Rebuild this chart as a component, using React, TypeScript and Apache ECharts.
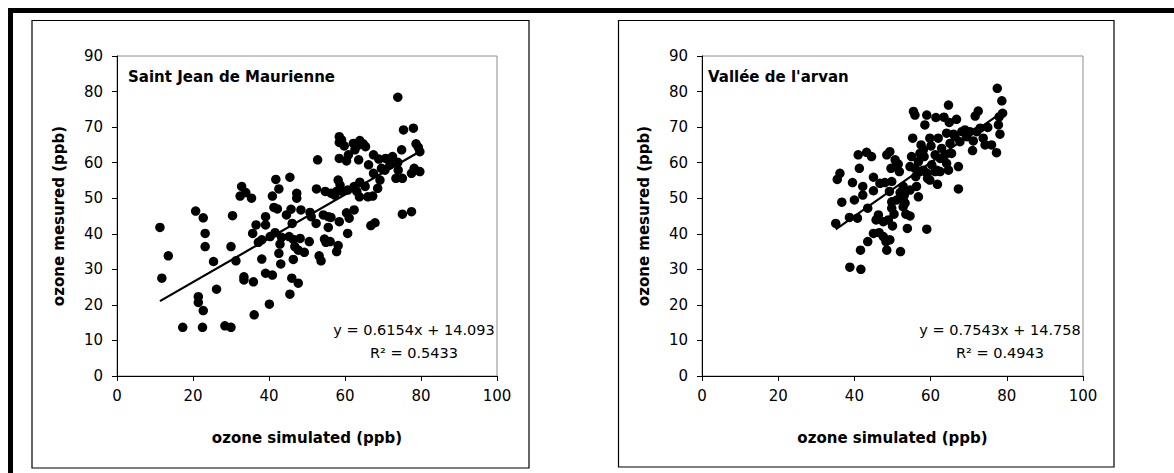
import React, { useEffect, useRef } from "react";
import * as echarts from "echarts";

// ---- Data ----
const xAxisTicks = [0, 20, 40, 60, 80, 100];
const yAxisTicks = [0, 10, 20, 30, 40, 50, 60, 70, 80, 90];

const sjmTitle = "Saint Jean de Maurienne";
const sjmSimulated = [
  11.3, 13.5, 11.8, 17.3, 20.7, 22.7, 23.2, 23.2, 25.4, 21.4, 21.4, 22.7, 22.5, 26.2, 28.4, 30.0, 30.4, 30.0, 31.3, 32.8,
  32.4, 33.9, 35.4, 33.4, 33.4, 35.9, 36.1, 35.7, 36.6, 37.2, 38.1, 39.1, 39.1, 38.1, 39.1, 40.9, 40.1, 40.3, 41.6, 40.9,
  41.8, 42.6, 41.3, 42.2, 43.3, 42.9, 42.6, 43.1, 44.6, 45.5, 45.8, 46.1, 45.3, 46.4, 46.8, 47.7, 48.2, 47.3, 47.3, 48.4,
  49.3, 50.6, 46.4, 46.0, 47.7, 45.5, 50.8, 51.1, 52.4, 52.5, 52.8, 53.2, 53.7, 54.3, 54.6, 55.0, 55.6, 56.1, 55.6, 56.3,
  54.8, 56.3, 57.8, 58.2, 58.5, 58.2, 58.7, 57.8, 58.5, 59.1, 58.5, 59.8, 58.5, 60.4, 60.7, 60.4, 61.1, 60.7, 62.2, 62.6,
  63.2, 63.9, 64.8, 65.4, 63.6, 66.2, 62.4, 63.1, 62.4, 63.9, 65.3, 63.8, 66.0, 67.3, 66.8, 67.9, 67.5, 68.9, 69.6, 69.2,
  68.6, 70.7, 71.7, 72.5, 73.9, 75.4, 74.9, 73.9, 74.0, 73.4, 75.1, 75.1, 77.5, 78.0, 78.7, 79.3, 79.7, 78.2, 77.5, 79.7,
  71.8, 70.5, 67.5, 59.3, 57.3, 60.9,
];
const sjmMeasured = [
  41.8, 33.8, 27.5, 13.7, 46.4, 44.5, 40.1, 36.4, 32.2, 22.3, 20.7, 18.4, 13.7, 24.4, 14.1, 13.7, 45.1, 36.4, 32.4, 53.3,
  50.6, 51.6, 50.0, 27.9, 27.0, 26.5, 17.2, 40.1, 42.5, 37.6, 38.3, 44.8, 42.5, 32.9, 28.9, 28.4, 20.2, 39.2, 40.3, 50.6,
  55.3, 52.6, 47.4, 47.0, 39.0, 37.1, 34.5, 31.5, 45.3, 55.9, 46.9, 42.9, 39.2, 38.4, 36.4, 35.4, 38.7, 51.4, 50.0, 46.7,
  34.8, 37.8, 32.8, 27.5, 26.1, 23.0, 46.0, 44.8, 42.9, 52.6, 60.8, 33.8, 32.4, 45.3, 38.5, 37.6, 44.8, 37.8, 41.8, 44.6,
  51.9, 51.4, 35.0, 36.7, 43.4, 55.1, 53.7, 51.9, 67.3, 66.4, 65.7, 64.7, 61.2, 60.5, 52.3, 45.9, 44.4, 40.1, 65.4, 63.6,
  64.7, 66.2, 65.3, 64.5, 60.8, 59.4, 53.3, 51.9, 46.7, 54.5, 53.3, 50.4, 50.4, 50.6, 42.3, 43.1, 62.2, 61.0, 58.4, 55.1,
  52.8, 61.2, 61.0, 61.7, 78.4, 69.2, 63.6, 60.1, 57.9, 55.6, 55.6, 45.5, 46.2, 69.7, 65.3, 64.3, 63.1, 58.4, 57.0, 57.5,
  59.4, 57.9, 57.0, 51.9, 50.9, 62.2,
];
const sjmSlope = 0.6154;
const sjmIntercept = 14.093;
const sjmR2 = 0.5433;

const arvTitle = "Vallée de l'arvan";
const arvSimulated = [
  35.1, 35.5, 36.2, 36.7, 38.7, 38.8, 39.5, 40.0, 40.8, 41.0, 41.3, 41.6, 41.7, 42.2, 42.2, 43.2, 44.5, 43.5, 43.5, 45.0,
  45.0, 45.0, 45.7, 46.3, 46.5, 47.6, 48.3, 48.5, 48.0, 48.5, 49.3, 49.2, 49.6, 49.8, 49.8, 48.9, 50.0, 50.4, 50.7, 50.9,
  51.5, 51.8, 52.0, 52.1, 52.8, 52.8, 53.1, 53.3, 53.5, 53.9, 54.6, 55.0, 55.3, 55.5, 55.9, 55.9, 56.1, 56.3, 56.8, 56.8,
  57.2, 57.5, 58.1, 58.3, 58.5, 59.0, 59.0, 59.1, 59.2, 59.8, 60.1, 60.3, 61.4, 61.8, 61.6, 62.0, 62.5, 62.9, 63.5, 63.8,
  64.2, 64.7, 64.7, 64.9, 65.5, 66.0, 66.8, 67.3, 67.3, 67.7, 69.0, 69.5, 71.0, 71.2, 71.7, 72.5, 73.0, 73.8, 74.3, 75.0,
  76.0, 77.3, 77.5, 77.8, 78.0, 78.2, 78.7, 78.9, 70.3, 72.1, 59.8, 61.2, 58.1, 54.6, 52.8, 51.1, 46.7, 47.6, 49.3, 49.8,
  54.6, 57.2, 61.2, 62.5, 64.2, 65.1, 66.4, 68.2,
];
const arvMeasured = [
  42.9, 55.3, 57.0, 48.9, 44.6, 30.6, 54.4, 49.5, 44.4, 62.2, 58.4, 35.4, 30.0, 53.3, 50.9, 62.9, 61.7, 47.2, 37.8, 55.9,
  52.1, 40.1, 43.9, 45.3, 40.3, 39.2, 37.8, 35.4, 54.4, 62.2, 63.1, 51.9, 58.4, 49.0, 47.2, 43.9, 42.2, 45.5, 60.8, 59.1,
  59.6, 57.5, 51.6, 35.0, 53.3, 49.5, 50.9, 48.6, 45.5, 41.5, 45.0, 61.7, 66.9, 74.4, 73.4, 58.4, 56.1, 53.3, 50.4, 60.3,
  57.5, 65.0, 63.6, 61.7, 70.6, 73.4, 41.3, 57.0, 55.6, 66.9, 64.7, 59.4, 72.7, 53.9, 57.9, 66.9, 57.5, 64.0, 72.8, 62.2,
  68.3, 76.2, 57.9, 71.3, 62.6, 68.0, 72.2, 58.9, 52.6, 65.9, 69.2, 67.3, 63.4, 66.1, 73.1, 74.5, 69.7, 66.9, 65.0, 69.9,
  65.0, 62.8, 80.9, 70.6, 72.9, 68.0, 77.4, 73.9, 68.7, 68.7, 55.1, 57.5, 57.9, 52.3, 47.6, 49.5, 54.2, 43.4, 38.3, 54.7,
  58.9, 62.6, 62.2, 61.2, 59.8, 65.4, 67.3, 68.7,
];
const arvSlope = 0.7543;
const arvIntercept = 14.758;
const arvR2 = 0.4943;

const xAxisTitle = "ozone simulated (ppb)";
const yAxisTitle = "ozone mesured (ppb)";

// ---- Layout ----
const FONT = "DejaVu Sans";
const PLOTS = [
  { left: 117, top: 56, width: 380, height: 320, panel: [32, 20.5, 497, 447.5], titleX: 128, eqX: 414 },
  { left: 702, top: 56, width: 381, height: 320, panel: [618.5, 20.5, 495.5, 446.5], titleX: 708, eqX: 1000 },
];

function pairs(xs: number[], ys: number[]) {
  return xs.map((x, i) => [x, ys[i]]);
}
function trend(xs: number[], slope: number, intercept: number) {
  const lo = Math.min(...xs);
  const hi = Math.max(...xs);
  return [
    [lo, slope * lo + intercept],
    [hi, slope * hi + intercept],
  ];
}
function fmtEq(slope: number, intercept: number) {
  return `y = ${slope.toFixed(4)}x + ${intercept.toFixed(3)}`;
}

export default function App() {
  const ref = useRef<HTMLDivElement>(null);
  useEffect(() => {
    if (!ref.current) return;
    const chart = echarts.init(ref.current, null, { renderer: "svg" });
    const datasets = [
      { title: sjmTitle, xs: sjmSimulated, ys: sjmMeasured, slope: sjmSlope, intercept: sjmIntercept, r2: sjmR2 },
      { title: arvTitle, xs: arvSimulated, ys: arvMeasured, slope: arvSlope, intercept: arvIntercept, r2: arvR2 },
    ];
    const grids: any[] = [];
    const xAxes: any[] = [];
    const yAxes: any[] = [];
    const series: any[] = [];
    const graphics: any[] = [
      {
        type: "rect",
        shape: { x: 10.5, y: 10.5, width: 1300, height: 600 },
        style: { fill: "none", stroke: "#000", lineWidth: 5 },
        silent: true,
      },
    ];
    datasets.forEach((d, i) => {
      const p = PLOTS[i];
      grids.push({
        left: p.left,
        top: p.top,
        width: p.width,
        height: p.height,
        show: true,
        borderColor: "#8c8c8c",
        borderWidth: 1,
        backgroundColor: "transparent",
      });
      xAxes.push({
        type: "value",
        gridIndex: i,
        min: xAxisTicks[0],
        max: xAxisTicks[xAxisTicks.length - 1],
        interval: xAxisTicks[1] - xAxisTicks[0],
        axisLine: { show: true, onZero: false, lineStyle: { color: "#000", width: 1 } },
        axisTick: { show: true, inside: false, length: 5, lineStyle: { color: "#000" } },
        axisLabel: { color: "#000", fontFamily: FONT, fontSize: 15, margin: 12 },
        splitLine: { show: false },
      });
      yAxes.push({
        type: "value",
        gridIndex: i,
        min: yAxisTicks[0],
        max: yAxisTicks[yAxisTicks.length - 1],
        interval: yAxisTicks[1] - yAxisTicks[0],
        axisLine: { show: true, onZero: false, lineStyle: { color: "#000", width: 1 } },
        axisTick: { show: true, inside: false, length: 5, lineStyle: { color: "#000" } },
        axisLabel: { color: "#000", fontFamily: FONT, fontSize: 15, margin: 14 },
        splitLine: { show: false },
      });
      series.push({
        type: "scatter",
        xAxisIndex: i,
        yAxisIndex: i,
        data: pairs(d.xs, d.ys),
        symbol: "circle",
        symbolSize: 9.5,
        itemStyle: { color: "#000", opacity: 1 },
      });
      series.push({
        type: "line",
        xAxisIndex: i,
        yAxisIndex: i,
        data: trend(d.xs, d.slope, d.intercept),
        symbol: "none",
        lineStyle: { color: "#000", width: 2.2 },
      });
      const [px, py, pw, ph] = p.panel;
      graphics.push({
        type: "rect",
        shape: { x: px, y: py, width: pw, height: ph },
        style: { fill: "none", stroke: "#000", lineWidth: 1.2 },
        silent: true,
      });
      graphics.push({
        type: "text",
        x: p.titleX,
        y: 77,
        style: { text: d.title, fontFamily: FONT, fontWeight: "bold", fontSize: 15, fill: "#000", textVerticalAlign: "middle" },
      });
      graphics.push({
        type: "text",
        x: p.eqX,
        y: 330,
        style: { text: fmtEq(d.slope, d.intercept), fontFamily: FONT, fontSize: 14.5, fill: "#000", textAlign: "center", textVerticalAlign: "middle" },
      });
      graphics.push({
        type: "text",
        x: p.eqX,
        y: 353,
        style: { text: `R² = ${d.r2.toFixed(4)}`, fontFamily: FONT, fontSize: 14.5, fill: "#000", textAlign: "center", textVerticalAlign: "middle" },
      });
      graphics.push({
        type: "text",
        x: p.left + p.width / 2,
        y: 438,
        style: { text: xAxisTitle, fontFamily: FONT, fontWeight: "bold", fontSize: 15, fill: "#000", textAlign: "center", textVerticalAlign: "middle" },
      });
      graphics.push({
        type: "text",
        x: p.left - 58,
        y: p.top + p.height / 2,
        rotation: Math.PI / 2,
        style: { text: yAxisTitle, fontFamily: FONT, fontWeight: "bold", fontSize: 15, fill: "#000", textAlign: "center", textVerticalAlign: "middle" },
      });
    });
    chart.setOption({
      animation: false,
      backgroundColor: "#fff",
      grid: grids,
      xAxis: xAxes,
      yAxis: yAxes,
      series,
      graphic: graphics,
    });
    return () => chart.dispose();
  }, []);
  return (
    <div
      ref={ref}
      style={{ position: "fixed", left: 0, top: 0, width: 1174, height: 473, background: "#fff" }}
    />
  );
}
